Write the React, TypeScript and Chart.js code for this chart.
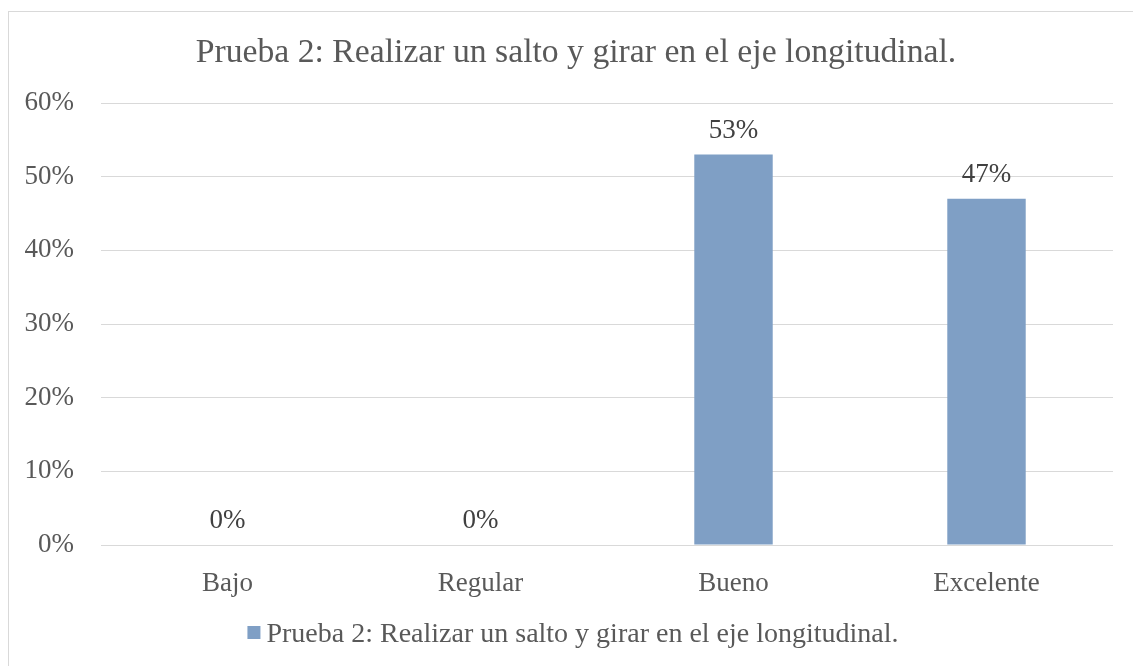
import React, { useEffect, useRef } from "react";
import { Chart, registerables } from "chart.js";

Chart.register(...registerables);

const categories = ["Bajo", "Regular", "Bueno", "Excelente"];
const values = [0, 0, 53, 47];
const seriesLabel = "Prueba 2: Realizar un salto y girar en el eje longitudinal.";
const chartTitle = "Prueba 2: Realizar un salto y girar en el eje longitudinal.";
const yMin = 0;
const yMax = 60;
const yStep = 10;

const FONT = "'Liberation Serif', 'Times New Roman', serif";
const BAR_COLOR = "#7F9FC5";
const GRID_COLOR = "#D9D9D9";
const TEXT_COLOR = "#595959";
const LABEL_COLOR = "#404040";

export default function App() {
  const ref = useRef<HTMLCanvasElement>(null);

  useEffect(() => {
    const canvas = ref.current;
    if (!canvas) return;

    const decor = {
      id: "decor",
      beforeDraw(chart: any) {
        const ctx = chart.ctx;
        ctx.save();
        ctx.fillStyle = "#ffffff";
        ctx.fillRect(0, 0, chart.width, chart.height);
        ctx.strokeStyle = GRID_COLOR;
        ctx.lineWidth = 1;
        ctx.strokeRect(8.5, 11.5, 1140, 700);
        ctx.restore();
      },
      afterDatasetsDraw(chart: any) {
        const ctx = chart.ctx;
        const meta = chart.getDatasetMeta(0);
        ctx.save();
        ctx.font = `27px ${FONT}`;
        ctx.fillStyle = LABEL_COLOR;
        ctx.textAlign = "center";
        ctx.textBaseline = "alphabetic";
        meta.data.forEach((bar: any, i: number) => {
          const v = chart.data.datasets[0].data[i];
          ctx.fillText(`${v}%`, bar.x, bar.y - 17);
        });
        ctx.restore();
      },
      afterDraw(chart: any) {
        const ctx = chart.ctx;
        ctx.save();
        // title
        ctx.font = `33.7px ${FONT}`;
        ctx.fillStyle = TEXT_COLOR;
        ctx.textAlign = "center";
        ctx.textBaseline = "alphabetic";
        ctx.fillText(chartTitle, 576, 62);
        // legend
        ctx.font = `28px ${FONT}`;
        const tw = ctx.measureText(seriesLabel).width;
        const box = 13;
        const gap = 6;
        const total = box + gap + tw;
        const x0 = 573 - total / 2;
        ctx.fillStyle = BAR_COLOR;
        ctx.fillRect(x0, 626, box, box);
        ctx.fillStyle = TEXT_COLOR;
        ctx.textAlign = "left";
        ctx.fillText(seriesLabel, x0 + box + gap, 642);
        ctx.restore();
      },
    };

    const chart = new Chart(canvas, {
      type: "bar",
      data: {
        labels: categories,
        datasets: [
          {
            label: seriesLabel,
            data: values,
            backgroundColor: BAR_COLOR,
            borderWidth: 0,
            barPercentage: 0.31,
            categoryPercentage: 1,
          },
        ],
      },
      options: {
        responsive: false,
        animation: false,
        layout: { padding: { left: 8, top: 103, right: 20, bottom: 61 } },
        plugins: {
          legend: { display: false },
          title: { display: false },
          tooltip: { enabled: false },
        },
        scales: {
          x: {
            grid: { display: false },
            border: { display: false },
            ticks: {
              color: TEXT_COLOR,
              font: { family: FONT, size: 27 },
              padding: 15,
              maxRotation: 0,
              autoSkip: false,
            },
            afterFit(scale: any) {
              scale.height = 60;
            },
          },
          y: {
            min: yMin,
            max: yMax,
            grid: { color: GRID_COLOR, lineWidth: 1, drawTicks: false },
            border: { display: false },
            ticks: {
              stepSize: yStep,
              color: TEXT_COLOR,
              font: { family: FONT, size: 27 },
              padding: 27,
              callback: (v: any) => `${v}%`,
            },
            afterFit(scale: any) {
              scale.width = 93;
            },
          },
        },
      },
      plugins: [decor],
    });

    return () => chart.destroy();
  }, []);

  return (
    <div style={{ position: "fixed", left: 0, top: 0, width: 1133, height: 666, background: "#fff", overflow: "hidden" }}>
      <canvas ref={ref} width={1133} height={666} style={{ display: "block", width: 1133, height: 666 }} />
    </div>
  );
}
